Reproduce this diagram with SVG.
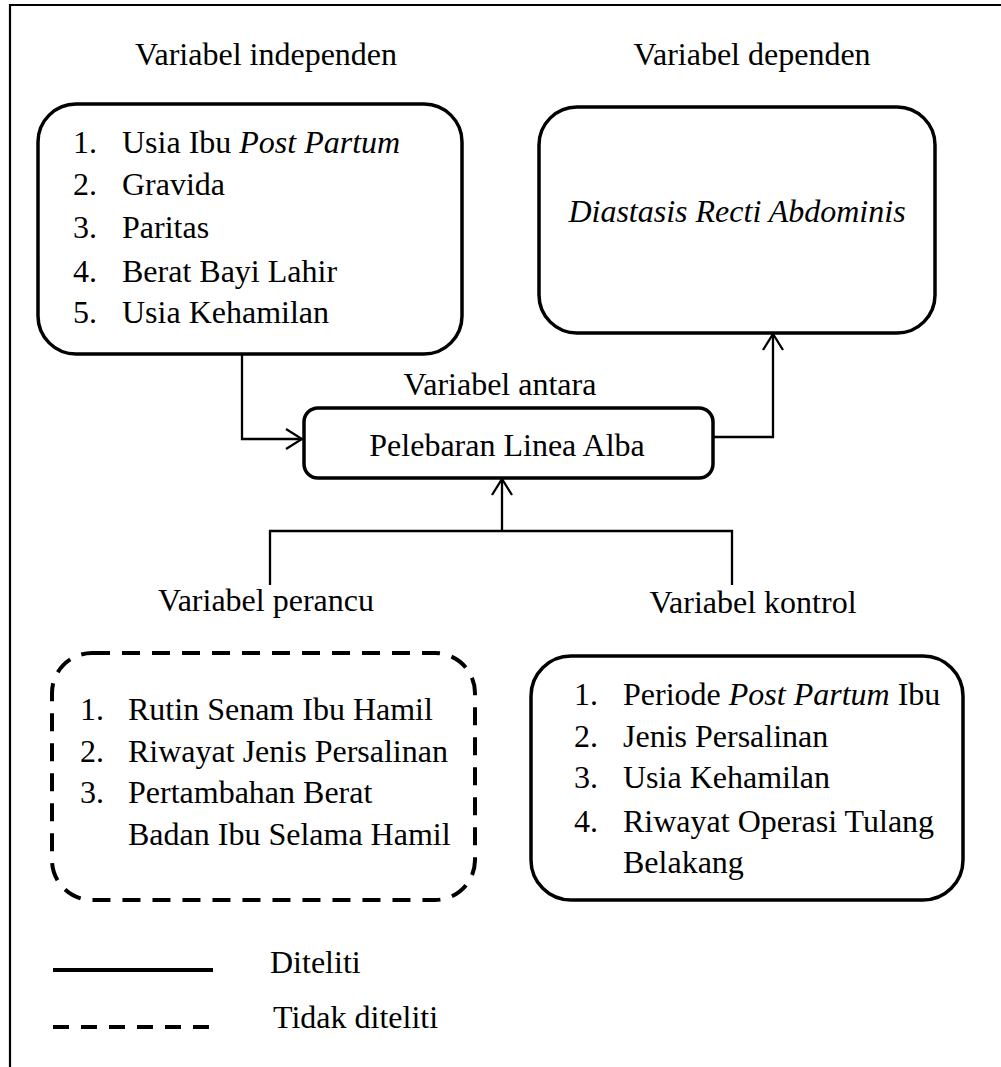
<svg xmlns="http://www.w3.org/2000/svg" width="1001" height="1067" viewBox="0 0 1001 1067">
<defs>
<style>
text{font-family:"Liberation Serif","Times New Roman",serif;font-size:32px;fill:#000}
.c{text-anchor:middle}
.i{font-style:italic}
.box{fill:#fff;stroke:#000;stroke-width:3.5}
.dash{fill:#fff;stroke:#000;stroke-width:4;stroke-dasharray:18 12}
.ln{fill:none;stroke:#000;stroke-width:2.3}
</style>
<marker id="arr" markerUnits="userSpaceOnUse" markerWidth="20" markerHeight="24" viewBox="-2 -2 20 24" refX="16" refY="10" orient="auto">
<path d="M0,0 L16,10 L0,20" fill="none" stroke="#000" stroke-width="2.3"/>
</marker>
</defs>
<rect width="1001" height="1067" fill="#fff"/>
<g id="frame">
<path d="M1001,5 H10 V1067" fill="none" stroke="#000" stroke-width="2.2"/>
</g>
<g id="connectors">
<path class="ln" d="M242,354 V439 H302" marker-end="url(#arr)"/>
<path class="ln" d="M713,437 H773 V334" marker-end="url(#arr)"/>
<path class="ln" d="M270,585 V531 H732 V585"/>
<path class="ln" d="M502,531 V479" marker-end="url(#arr)"/>
</g>
<g id="independen">
<text class="c" x="266" y="65">Variabel independen</text>
<rect class="box" x="38" y="104" width="424" height="250" rx="38"/>
<text x="73" y="153">1.</text><text x="122" y="153">Usia Ibu <tspan class="i">Post Partum</tspan></text>
<text x="73" y="195">2.</text><text x="122" y="195">Gravida</text>
<text x="73" y="238">3.</text><text x="122" y="238">Paritas</text>
<text x="73" y="282">4.</text><text x="122" y="282">Berat Bayi Lahir</text>
<text x="73" y="323">5.</text><text x="122" y="323">Usia Kehamilan</text>
</g>
<g id="dependen">
<text class="c" x="752" y="65">Variabel dependen</text>
<rect class="box" x="539" y="107" width="396" height="226" rx="38"/>
<text class="c i" x="737" y="222">Diastasis Recti Abdominis</text>
</g>
<g id="antara">
<text class="c" x="500" y="395">Variabel antara</text>
<rect class="box" x="304" y="408" width="409" height="70" rx="14"/>
<text class="c" x="507" y="456">Pelebaran Linea Alba</text>
</g>
<g id="perancu">
<text class="c" x="266" y="611">Variabel perancu</text>
<rect class="dash" x="52" y="653" width="423" height="247" rx="40"/>
<text x="80" y="720">1.</text><text x="128" y="720">Rutin Senam Ibu Hamil</text>
<text x="80" y="762">2.</text><text x="128" y="762">Riwayat Jenis Persalinan</text>
<text x="80" y="803">3.</text><text x="128" y="803">Pertambahan Berat</text>
<text x="128" y="845">Badan Ibu Selama Hamil</text>
</g>
<g id="kontrol">
<text class="c" x="753" y="613">Variabel kontrol</text>
<rect class="box" x="531" y="656" width="432" height="244" rx="40"/>
<text x="574" y="705">1.</text><text x="623" y="705">Periode <tspan class="i">Post Partum</tspan> Ibu</text>
<text x="574" y="747">2.</text><text x="623" y="747">Jenis Persalinan</text>
<text x="574" y="788">3.</text><text x="623" y="788">Usia Kehamilan</text>
<text x="574" y="832">4.</text><text x="623" y="832">Riwayat Operasi Tulang</text>
<text x="623" y="873">Belakang</text>
</g>
<g id="legend">
<line x1="53" y1="970" x2="213" y2="970" stroke="#000" stroke-width="4"/>
<text x="270" y="973">Diteliti</text>
<line x1="53" y1="1027" x2="210" y2="1027" stroke="#000" stroke-width="4" stroke-dasharray="16 12"/>
<text x="273" y="1028">Tidak diteliti</text>
</g>
</svg>
